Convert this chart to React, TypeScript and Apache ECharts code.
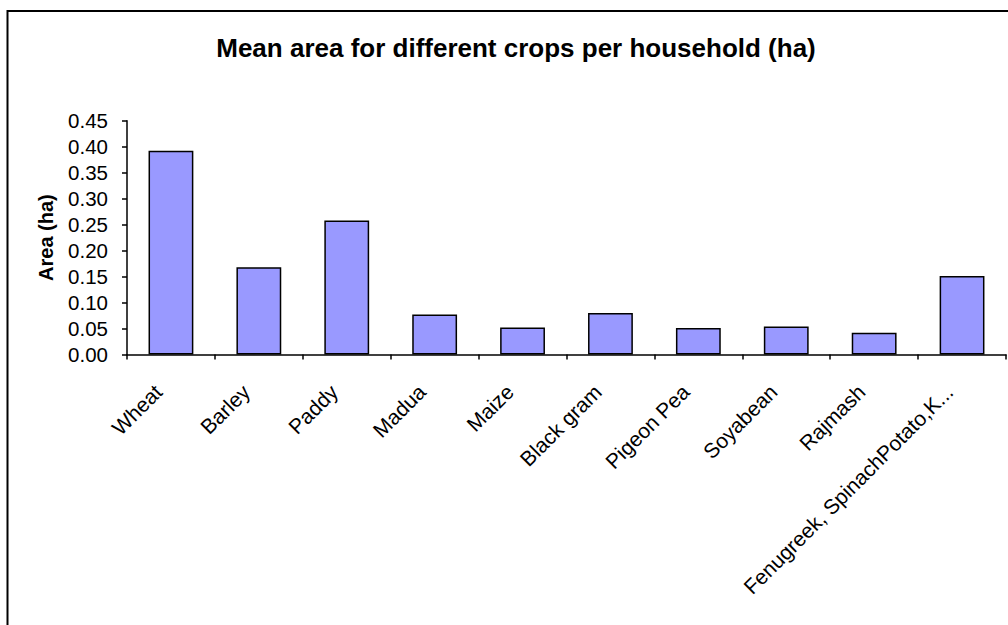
import React, { useEffect, useRef } from "react";
import * as echarts from "echarts";

const categories = [
  "Wheat",
  "Barley",
  "Paddy",
  "Madua",
  "Maize",
  "Black gram",
  "Pigeon Pea",
  "Soyabean",
  "Rajmash",
  "Fenugreek, SpinachPotato,K...",
];
const areaValues = [0.392, 0.168, 0.258, 0.077, 0.052, 0.080, 0.051, 0.054, 0.042, 0.151];
const yTicks = { min: 0, max: 0.45, interval: 0.05 };
const titleText = "Mean area for different crops per household (ha)";
const yAxisName = "Area (ha)";

const FONT = "Arial, 'Liberation Sans', sans-serif";

export default function App() {
  const ref = useRef<HTMLDivElement>(null);
  useEffect(() => {
    if (!ref.current) return;
    const chart = echarts.init(ref.current, null, { renderer: "svg" });
    chart.setOption({
      animation: false,
      backgroundColor: "#ffffff",
      graphic: [
        {
          type: "rect",
          shape: { x: 7.5, y: 11, width: 1100, height: 700 },
          style: { fill: "none", stroke: "#000", lineWidth: 2 },
          silent: true,
        },
        {
          type: "text",
          x: 516,
          y: 35,
          style: {
            text: titleText,
            font: `bold 26px ${FONT}`,
            fill: "#000",
            textAlign: "center",
            textVerticalAlign: "top",
          },
        },
      ],
      grid: { left: 127, right: 2, top: 120.7, bottom: 270.5, containLabel: false },
      xAxis: {
        type: "category",
        data: categories,
        axisLine: { lineStyle: { color: "#000", width: 1.5 } },
        axisTick: { show: true, alignWithLabel: false, length: 5, lineStyle: { color: "#000", width: 1.5 } },
        axisLabel: {
          rotate: 45,
          interval: 0,
          margin: 21,
          padding: [0, 18, 0, 0],
          fontSize: 21,
          fontFamily: FONT,
          color: "#000",
        },
      },
      yAxis: {
        type: "value",
        min: yTicks.min,
        max: yTicks.max,
        interval: yTicks.interval,
        name: yAxisName,
        nameLocation: "middle",
        nameGap: 71,
        nameRotate: 90,
        nameTextStyle: { fontSize: 20, fontWeight: "bold", fontFamily: FONT, color: "#000" },
        splitLine: { show: false },
        axisLine: { show: true, lineStyle: { color: "#000", width: 1.5 } },
        axisTick: { show: true, length: 5, lineStyle: { color: "#000", width: 1.5 } },
        axisLabel: {
          margin: 19,
          fontSize: 20.5,
          fontFamily: FONT,
          color: "#000",
          formatter: (v: number) => v.toFixed(2),
        },
      },
      series: [
        {
          type: "bar",
          data: areaValues,
          barCategoryGap: "49%",
          itemStyle: { color: "#9999FF", borderColor: "#000", borderWidth: 1.5 },
        },
      ],
    });
    return () => chart.dispose();
  }, []);
  return (
    <div
      ref={ref}
      style={{ position: "fixed", left: 0, top: 0, width: 1008, height: 625, background: "#fff" }}
    />
  );
}
